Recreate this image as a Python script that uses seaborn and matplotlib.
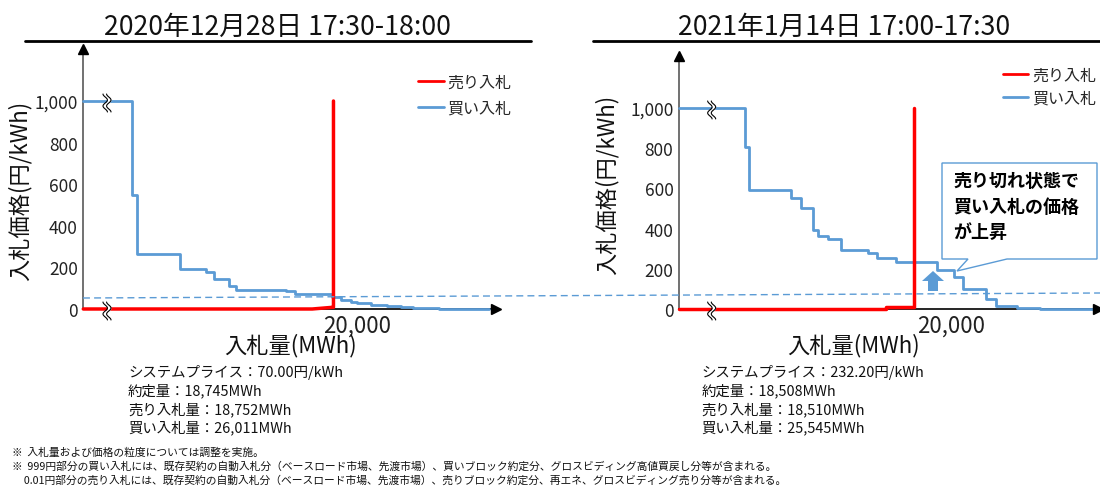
import numpy as np
import pandas as pd
import seaborn as sns
import matplotlib
matplotlib.use("Agg")
import matplotlib.pyplot as plt
from matplotlib.lines import Line2D
from matplotlib.patches import Polygon, FancyArrow

# ---- data -------------------------------------------------------------
title_1228 = "2020年12月28日 17:30-18:00"
title_0114 = "2021年1月14日 17:00-17:30"

# buy curve: step starts (MWh) and price (円/kWh)
buy_x_1228 = [0, 3538, 3923, 7077, 8923, 9564, 10641, 11154, 14821, 15410, 17128,
              18154, 18795, 19564, 19949, 20974, 22128, 23154, 24051, 25974, 29564]
buy_p_1228 = [1000, 547, 264, 192, 179, 142, 109, 93, 85, 72, 70,
              59, 45, 32, 29, 21, 14, 8, 3, 0.5, 0.5]
sell_x_1228 = [0, 16700, 18150, 18250, 18250]
sell_p_1228 = [0.01, 0.01, 8, 8, 1000]

buy_x_0114 = [0, 4864, 5123, 8279, 9004, 9858, 10220, 10944, 11928, 13920, 14567,
              15990, 18965, 20259, 20906, 22588, 23363, 24916, 26598, 30867]
buy_p_0114 = [1000, 804, 594, 551, 504, 395, 365, 348, 295, 279, 252,
              232, 196, 158, 100, 50, 13, 5, 0.5, 0.5]
sell_x_0114 = [0, 15213, 15213, 17283, 17283]
sell_p_0114 = [0.01, 0.01, 8, 8, 1000]

stats_1228 = ["システムプライス：70.00円/kWh", "約定量：18,745MWh",
              "売り入札量：18,752MWh", "買い入札量：26,011MWh"]
stats_0114 = ["システムプライス：232.20円/kWh", "約定量：18,508MWh",
              "売り入札量：18,510MWh", "買い入札量：25,545MWh"]

y_ticks = [0, 200, 400, 600, 800, 1000]
y_tick_labels = ["0", "200", "400", "600", "800", "1,000"]
x_ticks = [20000]
x_tick_labels = ["20,000"]

callout_lines = ["売り切れ状態で", "買い入札の価格", "が上昇"]
footnotes = [
    "※  入札量および価格の粒度については調整を実施。",
    "※  999円部分の買い入札には、既存契約の自動入札分（ベースロード市場、先渡市場）、買いブロック約定分、グロスビディング高値買戻し分等が含まれる。",
    "     0.01円部分の売り入札には、既存契約の自動入札分（ベースロード市場、先渡市場）、売りブロック約定分、再エネ、グロスビディング売り分等が含まれる。",
]

# ---- style ------------------------------------------------------------
sns.set_style("white")
FAM = ["Noto Sans CJK JP", "DejaVu Sans"]
plt.rcParams["font.family"] = FAM
RED = "#FF0000"
BLUE = "#5B9BD5"

W, H = 1100, 489
fig = plt.figure(figsize=(W / 100, H / 100), dpi=100)


def fx(px):
    return px / W


def fy(py):
    return 1 - py / H


def panel(left, right, top, bottom, xmax, ymax):
    return fig.add_axes([fx(left), fy(bottom), fx(right) - fx(left), fy(top) - fy(bottom)],
                        xlim=(0, xmax), ylim=(0, ymax))


def draw_break(ax, x0, y0, px_x, px_y):
    # two wavy strokes marking the axis break
    t = np.linspace(-1, 1, 60)
    h = 9 * px_y
    a = 2.2 * px_x
    ys = y0 + t * h - 2 * px_y
    for off in (-1.8, 1.8):
        xs = x0 + off * px_x + a * np.sin(np.pi * 1.5 * t)
        ax.plot(xs, ys, color="black", lw=0.8, zorder=6, clip_on=False)
    xs1 = x0 - 1.8 * px_x + a * np.sin(np.pi * 1.5 * t)
    xs2 = x0 + 1.8 * px_x + a * np.sin(np.pi * 1.5 * t)
    ax.fill_betweenx(ys, xs1, xs2, color="white", zorder=5, clip_on=False, lw=0)


def draw_panel(ax, bx, bp, sx, sp, legend_anchor, labelspacing, break_x):
    buy = pd.DataFrame({"x": bx, "p": bp})
    sell = pd.DataFrame({"x": sx, "p": sp})
    sns.lineplot(data=buy, x="x", y="p", estimator=None, sort=False, drawstyle="steps-post",
                 color=BLUE, lw=2, ax=ax, label="買い入札", clip_on=False, zorder=4)
    sns.lineplot(data=sell, x="x", y="p", estimator=None, sort=False,
                 color=RED, lw=2.5, ax=ax, label="売り入札", clip_on=False, zorder=4)
    for s in ("top", "right"):
        ax.spines[s].set_visible(False)
    ax.spines["left"].set_color("#595959")
    ax.spines["left"].set_linewidth(1.2)
    ax.spines["bottom"].set_color("black")
    ax.spines["bottom"].set_linewidth(1.2)
    ax.set_yticks(y_ticks, y_tick_labels)
    ax.set_xticks(x_ticks, x_tick_labels)
    ax.tick_params(axis="y", length=0, pad=4, labelsize=12.5, labelcolor="#222222")
    ax.tick_params(axis="x", direction="in", length=6, width=1, pad=3, labelsize=16,
                   labelcolor="#222222")
    ax.set_xlabel("")
    ax.set_ylabel("")
    ax.grid(False)
    ax.plot(1, 0, marker=">", ms=7, color="black", transform=ax.transAxes, clip_on=False, zorder=7)
    ax.plot(0, 1, marker="^", ms=7, color="black", transform=ax.transAxes, clip_on=False, zorder=7)

    handles, labels = ax.get_legend_handles_labels()
    order = [labels.index("売り入札"), labels.index("買い入札")]
    leg = ax.legend([handles[i] for i in order], [labels[i] for i in order],
                    loc="upper left", bbox_to_anchor=legend_anchor, bbox_transform=fig.transFigure,
                    frameon=False, fontsize=11.5, handlelength=1.6, handletextpad=0.25,
                    borderpad=0, borderaxespad=0, labelspacing=labelspacing)
    for ln in leg.get_lines():
        ln.set_linewidth(2)

    bbox = ax.get_position()
    px_x = ax.get_xlim()[1] / (bbox.width * W)
    px_y = ax.get_ylim()[1] / (bbox.height * H)
    draw_break(ax, break_x, 1000, px_x, px_y)
    draw_break(ax, break_x, 0, px_x, px_y)
    return px_x, px_y


ax1 = panel(83.3, 495.6, 50, 310, 30077, 1250)
ax2 = panel(679, 1098.3, 56.7, 310, 30870, 1260)

draw_panel(ax1, buy_x_1228, buy_p_1228, sell_x_1228, sell_p_1228,
           (fx(418), fy(75)), 0.55, 1729)
px_x, px_y = draw_panel(ax2, buy_x_0114, buy_p_0114, sell_x_0114, sell_p_0114,
                        (fx(1002.7), fy(68)), 0.35, 2406)

# ---- callout on the right panel ---------------------------------------
def d(px, py):
    return ((px - 679) * px_x, (310 - py) * px_y)


shape = [d(942, 164), d(1097, 164), d(1097, 260), d(1007, 260), d(957, 272),
         d(968, 260), d(942, 260)]
ax2.add_patch(Polygon(shape, closed=True, facecolor="white", edgecolor=BLUE, lw=1,
                      clip_on=False, zorder=8))
tx, ty = d(953, 207)
ax2.text(tx, ty, "\n".join(callout_lines), fontsize=13, fontweight="bold", color="black",
         va="center", ha="left", linespacing=1.42, zorder=9, clip_on=False, family=FAM)

ax_c, ay0 = d(933, 292)
_, ay1 = d(933, 272)
_, ahead = d(933, 282)
xl, _ = d(922, 0)
xr, _ = d(944, 0)
sl, _ = d(928, 0)
sr, _ = d(938, 0)
ax2.add_patch(FancyArrow(ax_c, ay0, 0, ay1 - ay0, width=sr - sl, head_width=xr - xl,
                         head_length=ay1 - ahead, length_includes_head=True,
                         color=BLUE, lw=0, zorder=6))

# ---- titles, labels and notes -----------------------------------------
fig.text(fx(277.7), fy(27.5), title_1228, ha="center", va="center", fontsize=19.2, color="#111111")
fig.text(fx(844.4), fy(27.5), title_0114, ha="center", va="center", fontsize=19.2, color="#111111")
fig.add_artist(Line2D([fx(24.6), fx(530.7)], [fy(41.7), fy(41.7)], color="black", lw=2))
fig.add_artist(Line2D([fx(593), fx(1100)], [fy(41.7), fy(41.7)], color="black", lw=2))

for cx, cy in ((20, 191), (607, 185)):
    fig.text(fx(cx), fy(cy), "入札価格(円/kWh)", rotation=90, ha="center", va="center",
             fontsize=16, color="#111111")
for cx in (290.7, 853.3):
    fig.text(fx(cx), fy(346), "入札量(MWh)", ha="center", va="center", fontsize=16, color="#111111")

for x0, lines in ((128, stats_1228), (701.7, stats_0114)):
    for y0, s in zip((373, 391, 409.5, 428), lines):
        fig.text(fx(x0), fy(y0), s, ha="left", va="center", fontsize=10.4, color="#111111")

fig.add_artist(Line2D([fx(83), fx(1100)], [fy(299), fy(294)], color=BLUE, lw=1,
                      linestyle=(0, (5, 3))))

for y0, s in zip((453, 467, 481), footnotes):
    fig.text(fx(12), fy(y0), s, ha="left", va="center", fontsize=7.75, color="#111111")

fig.savefig("out.png", dpi=100)
